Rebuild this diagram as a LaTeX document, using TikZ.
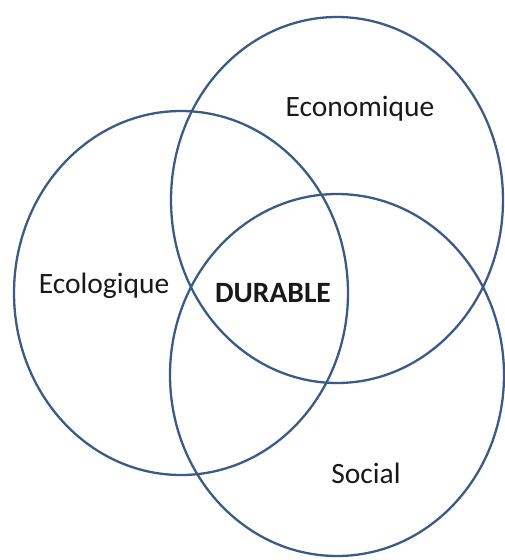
\documentclass[tikz,border=0pt]{standalone}
\usepackage{fontspec}
\setmainfont{Carlito}
\definecolor{ringblue}{HTML}{3B5B86}
\begin{document}
\begin{tikzpicture}[x=1pt,y=-1pt,
  ring/.style={draw=ringblue,line width=2.3pt},
  lbl/.style={font=\fontsize{29.5}{32}\selectfont,text=black!90,anchor=base,inner sep=0pt}]
\useasboundingbox (0,0) rectangle (505,560);
\draw[ring] (181,293) ellipse [x radius=167, y radius=182];
\draw[ring] (337,200) ellipse [x radius=166, y radius=183];
\draw[ring] (337,375) ellipse [x radius=167, y radius=181];
\node[lbl] (eco) at (360,116) {Economique};
\node[lbl] (ecol) at (104,293) {Ecologique};
\node[lbl,font=\fontsize{29.5}{32}\selectfont\bfseries] (dur) at (273,302) {DURABLE};
\node[lbl] (soc) at (366,483) {Social};
\end{tikzpicture}
\end{document}
